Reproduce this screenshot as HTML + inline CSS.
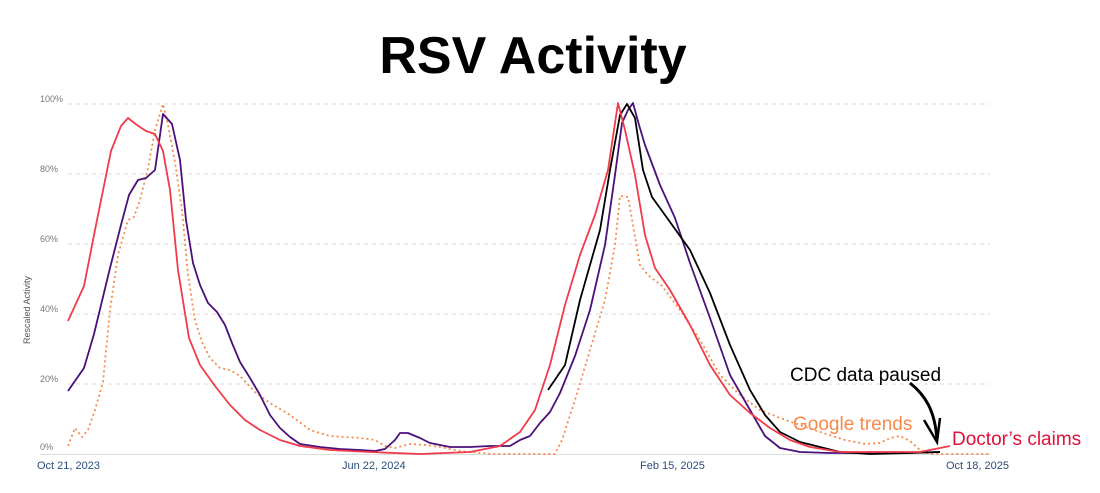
<!DOCTYPE html>
<html><head><style>
body{margin:0;background:#fff;width:1100px;height:488px;overflow:hidden}
svg text{font-family:"Liberation Sans",sans-serif}
</style></head><body>
<svg width="1100" height="488" xmlns="http://www.w3.org/2000/svg">
<text x="533" y="73" text-anchor="middle" font-size="52" font-weight="bold" fill="#000">RSV Activity</text>
<g stroke="#ddd" stroke-dasharray="4,4" stroke-width="1">
<line x1="68" x2="990" y1="104" y2="104"/><line x1="68" x2="990" y1="174" y2="174"/>
<line x1="68" x2="990" y1="244" y2="244"/><line x1="68" x2="990" y1="314" y2="314"/>
<line x1="68" x2="990" y1="384" y2="384"/></g>
<line x1="40" x2="990" y1="454.5" y2="454.5" stroke="#ddd"/>
<g font-size="9" fill="#777">
<text x="40" y="102">100%</text><text x="40" y="172">80%</text><text x="40" y="242">60%</text>
<text x="40" y="312">40%</text><text x="40" y="382">20%</text><text x="40" y="450">0%</text></g>
<text transform="translate(30,310) rotate(-90)" font-size="9" fill="#555" text-anchor="middle">Rescaled Activity</text>
<g font-size="11" fill="#2a4d7d">
<text x="37" y="469">Oct 21, 2023</text><text x="342" y="469">Jun 22, 2024</text>
<text x="640" y="469">Feb 15, 2025</text><text x="946" y="469">Oct 18, 2025</text></g>
<g fill="none" stroke-width="1.8" stroke-linejoin="round">
<polyline stroke="#f7894a" stroke-dasharray="2,3" points="68,446 75,428 82,437 88,430 95,410 103,382 110,310 118,255 128,220 134,217 140,200 148,168 155,130 163,104 168,125 175,162 182,210 188,275 195,320 202,342 210,358 220,368 230,370 240,376 255,392 270,403 290,415 310,430 330,436 360,438 375,440 385,446 395,448 410,444 425,445 440,447 460,451 490,454 555,454 562,440 575,400 590,350 605,300 615,245 620,196 628,197 633,225 640,265 648,275 662,286 680,310 700,340 720,375 740,395 760,410 780,418 800,425 820,432 845,440 865,444 880,443 890,438 900,436 910,441 920,450 930,454 990,454"/>
<polyline stroke="#4b0f7a" points="68,391 84,368 94,334 110,268 121,225 129,195 138,180 146,178 155,170 163,114 172,124 180,160 186,220 193,263 200,285 208,303 217,312 225,325 232,343 240,362 250,378 260,395 270,415 280,428 290,437 300,444 320,447 340,449 360,450 375,451 385,449 395,440 400,433 408,433 420,438 430,443 450,447 470,447 490,446 510,446 520,440 530,436 540,423 550,412 560,393 575,356 590,310 605,245 615,175 622,123 628,110 633,103 639,125 645,145 660,185 675,218 690,263 710,318 730,375 750,410 765,436 780,448 800,452 830,453 900,453 940,452"/>
<polyline stroke="#000" points="548,390 565,365 580,300 600,230 610,170 620,115 627,104 635,118 643,170 652,197 670,222 690,250 710,293 730,345 750,390 765,415 780,432 800,442 820,447 840,452 870,454 910,453 940,452"/>
<polyline stroke="#ef3b4a" points="68,321 84,286 96,225 111,151 121,126 128,118 137,125 146,131 155,134 163,151 170,190 178,270 189,338 200,365 215,386 230,405 245,420 260,430 280,440 300,446 330,450 370,452 420,454 470,452 500,446 520,432 535,410 550,365 565,305 580,255 595,215 608,170 618,103 625,130 635,175 645,235 655,268 670,290 690,325 710,365 730,395 750,413 770,428 790,440 810,447 840,452 880,452 920,452 950,446"/>
</g>
<path d="M910,383 C925,395 935,410 937,440" fill="none" stroke="#000" stroke-width="3"/>
<path d="M924,420 L937,442 L940,418" fill="none" stroke="#000" stroke-width="2.5"/>
<text x="790" y="381" font-size="19" fill="#000">CDC data paused</text>
<text x="793" y="430" font-size="19" fill="#f7894a">Google trends</text>
<text x="952" y="445" font-size="19" fill="#e0103a">Doctor’s claims</text>
</svg>
</body></html>
